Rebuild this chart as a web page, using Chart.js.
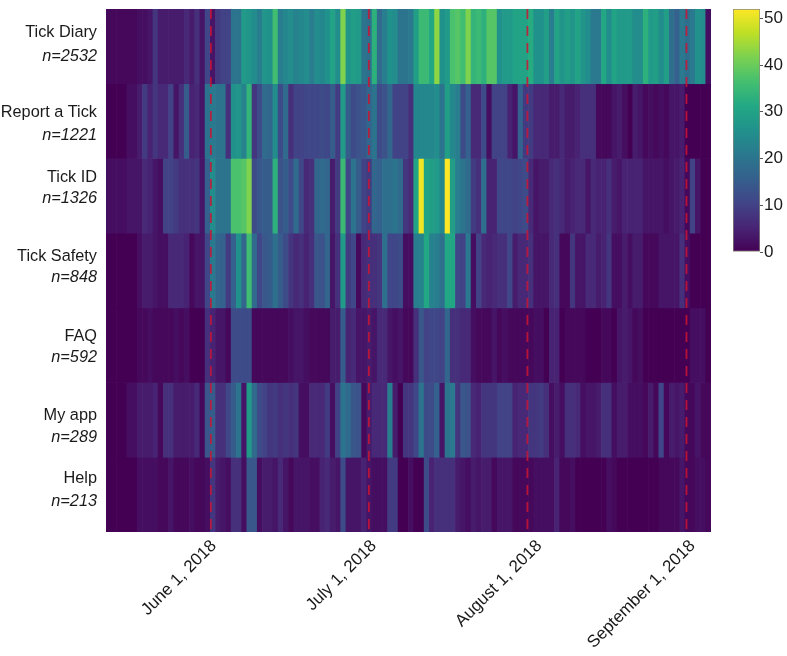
<!DOCTYPE html>
<html><head><meta charset="utf-8">
<style>html,body{margin:0;padding:0;background:#fff;width:787px;height:656px;overflow:hidden}
canvas{position:absolute;display:block}</style>
<script src="https://cdn.jsdelivr.net/npm/chart.js@4"></script>
</head><body>
<canvas id="heat" width="720" height="656" style="left:0;top:0;width:720px;height:656px"></canvas>
<canvas id="bar" width="67" height="260" style="left:720px;top:0;width:67px;height:260px"></canvas>
<script>
const tickDiary=[1,1,1,1,1,1,2,2,3,8,4,4,4,4,4,6,4,7,3,11,3,9,10,10,20,20,28,27,25,22,27,26,36,22,24,25,23,24,25,22,25,24,26,30,25,42,27,29,28,20,19,33,18,22,26,25,20,20,21,29,35,35,31,43,26,28,37,38,36,42,34,35,33,38,38,26,28,28,30,30,30,32,26,26,29,22,30,27,29,27,30,27,25,21,21,31,25,30,28,28,28,25,25,33,28,29,25,29,19,16,21,19,21,26,25,2];
const reportTick=[0,0,0,0,2,2,4,9,5,8,6,6,10,3,7,15,5,6,3,20,21,20,20,7,26,27,23,34,8,12,18,17,25,12,18,7,10,10,11,11,11,12,11,15,9,28,15,12,13,14,17,20,12,13,17,10,10,10,7,24,24,24,24,25,20,29,24,22,12,16,6,6,12,2,10,10,10,5,3,16,9,9,6,6,6,4,4,6,4,4,5,7,7,7,1,1,1,3,4,2,0,4,3,1,2,1,2,1,3,3,4,0,0,0,0,0];
const tickId=[2,2,2,2,3,3,3,6,5,3,2,10,10,9,7,7,7,8,3,16,25,20,20,20,37,37,38,42,12,14,15,15,33,13,15,12,18,11,6,7,17,18,17,4,9,35,11,20,15,10,9,17,16,19,19,20,18,8,6,30,51,30,29,28,24,52,29,22,20,18,9,7,19,5,5,11,11,11,10,11,12,6,3,4,4,6,7,6,4,5,6,6,3,6,5,5,7,4,3,5,5,5,5,3,3,3,3,2,3,4,5,1,10,3,0,0];
const tickSafety=[0,0,0,0,0,0,2,4,4,3,2,2,6,6,6,5,1,3,3,11,21,17,16,9,16,26,17,36,18,11,14,15,19,15,12,8,6,7,5,7,14,13,17,3,7,28,9,11,1,6,7,7,8,19,11,11,12,2,2,22,23,31,23,22,19,31,31,11,10,21,2,10,6,5,6,7,7,11,4,6,6,7,3,3,3,6,7,1,1,8,3,3,6,6,4,5,8,2,2,4,2,4,4,1,1,1,3,3,3,3,7,2,0,0,0,0];
const faq=[0,0,0,0,0,0,1,1,2,1,1,1,1,2,1,2,0,0,0,7,5,3,3,1,12,12,12,12,1,1,1,1,1,1,1,2,3,3,2,1,1,1,1,4,4,15,5,6,3,3,4,3,6,6,3,2,3,1,1,7,14,10,11,11,10,17,7,7,6,6,2,1,1,1,3,1,2,1,1,1,1,1,2,2,0,5,5,0,1,1,1,1,0,0,0,1,1,0,3,4,3,1,2,0,0,0,0,0,0,0,0,0,2,2,2,0];
const myApp=[0,0,0,0,2,2,4,4,4,5,1,7,7,4,4,4,4,6,1,14,15,7,7,11,15,20,3,28,18,12,10,8,9,7,8,7,8,2,2,6,6,6,9,2,10,20,18,14,13,1,4,6,6,6,22,4,0,8,8,11,20,12,12,16,3,20,21,8,14,13,6,5,8,8,8,10,10,10,5,6,6,8,8,9,7,2,4,2,7,7,6,2,3,3,4,7,7,2,4,4,2,2,2,1,4,1,11,1,4,3,4,1,1,3,1,1];
const help=[0,0,0,0,0,0,2,2,2,2,1,1,3,1,1,1,2,1,1,2,8,4,3,2,7,7,2,14,14,2,4,4,3,6,3,1,3,3,3,2,2,5,6,4,3,12,3,3,3,5,3,2,2,2,9,9,0,0,2,0,0,12,5,7,7,7,7,4,3,2,4,3,4,4,1,3,3,3,1,1,1,1,2,2,2,2,5,1,1,2,0,0,0,0,0,0,2,1,0,0,0,0,0,0,0,0,1,1,1,1,3,1,1,2,2,1];
const rows=[tickDiary,reportTick,tickId,tickSafety,faq,myApp,help];
const rowNames=["Tick Diary","Report a Tick","Tick ID","Tick Safety","FAQ","My app","Help"];
const rowCounts=["n=2532","n=1221","n=1326","n=848","n=592","n=289","n=213"];
const nameTickPos=[0.32,1.39,2.25,3.31,4.38,5.44,6.29];
const countTickPos=[0.63,1.69,2.53,3.60,4.67,5.73,6.59];
const xTickPos=[20.1,50.4,80.8,111.3];
const xLabelPos=[20.1,50.8,82.5,111.9];
const xTickLabels=["June 1, 2018","July 1, 2018","August 1, 2018","September 1, 2018"];
const colorTicks=[0,10,20,30,40,50];
const colorMax=52;
const dayCount=116;
const viridis=["#440154","#482475","#414487","#355f8d","#2a788e","#21918c","#22a884","#44bf70","#7ad151","#bddf26","#fde725"];

function hex(c){return [1,3,5].map(i=>parseInt(c.substr(i,2),16));}
function colorOf(v){
  const t=Math.min(1,Math.max(0,v/colorMax))*(viridis.length-1);
  const i=Math.min(viridis.length-2,Math.floor(t)),f=t-i;
  const a=hex(viridis[i]),b=hex(viridis[i+1]);
  return `rgb(${a.map((x,k)=>Math.round(x+(b[k]-x)*f)).join(",")})`;
}
const FONT="'Liberation Sans', Arial, sans-serif";
const ink="#1a1a1a";

const heatSets=rows.map((vals,r)=>({
  type:"bar",
  data:vals.map((v,i)=>({x:i+0.5,y:[r,r+1]})),
  backgroundColor:c=>colorOf(vals[c.dataIndex]),
  borderWidth:0,barPercentage:1,categoryPercentage:1,grouped:false,order:2
}));
const lineSets=xTickPos.map(p=>({
  type:"line",
  data:[{x:p,y:0},{x:p,y:7.04}],
  borderColor:"rgba(205,20,50,0.85)",borderWidth:1.8,borderDash:[10,7],
  pointRadius:0,clip:false,order:1
}));
const yTicks=[];
rows.forEach((_,r)=>{
  yTicks.push({value:nameTickPos[r],label:rowNames[r],it:false});
  yTicks.push({value:countTickPos[r],label:rowCounts[r],it:true});
});

new Chart(document.getElementById("heat"),{
  data:{datasets:[...heatSets,...lineSets]},
  options:{
    responsive:false,animation:false,devicePixelRatio:1,
    layout:{autoPadding:false,padding:{left:0,top:9,right:9,bottom:0}},
    plugins:{legend:{display:false},tooltip:{enabled:false}},
    scales:{
      x:{type:"linear",min:0,max:dayCount,offset:false,
        grid:{display:false,drawTicks:false},border:{display:false},
        afterBuildTicks:s=>{s.ticks=xLabelPos.map(v=>({value:v}));},
        afterFit:s=>{s.height=124;},
        ticks:{autoSkip:false,minRotation:45,maxRotation:45,padding:4,labelOffset:3,color:ink,
          font:{family:FONT,size:17},
          callback:(v,i)=>xTickLabels[i]}
      },
      y:{type:"linear",min:0,max:7,reverse:true,
        grid:{display:false,drawTicks:false},border:{display:false},
        afterBuildTicks:s=>{s.ticks=yTicks.map(t=>({value:t.value}));},
        afterFit:s=>{s.width=106;s.paddingTop=0;s.paddingBottom=0;},
        ticks:{autoSkip:false,padding:9,color:ink,
          font:c=>({family:FONT,size:16.3,style:yTicks[c.index]&&yTicks[c.index].it?"italic":"normal"}),
          callback:(v,i)=>yTicks[i].label}
      }
    }
  }
});

new Chart(document.getElementById("bar"),{
  type:"bar",
  data:{labels:[""],datasets:[{
    data:[[0,colorMax]],
    backgroundColor:c=>{
      const a=c.chart.chartArea; if(!a) return viridis[0];
      const g=c.chart.ctx.createLinearGradient(0,a.bottom,0,a.top);
      viridis.forEach((col,i)=>g.addColorStop(i/(viridis.length-1),col));
      return g;
    },
    borderColor:"#8a8a7a",borderWidth:1,borderSkipped:false,
    barPercentage:1,categoryPercentage:1
  }]},
  options:{
    responsive:false,animation:false,devicePixelRatio:1,
    layout:{autoPadding:false,padding:{left:13,top:9,right:0,bottom:8}},
    plugins:{legend:{display:false},tooltip:{enabled:false}},
    scales:{
      x:{display:false},
      y:{position:"right",min:0,max:colorMax,
        border:{display:false},
        grid:{drawOnChartArea:false,drawTicks:true,tickLength:3,tickColor:"#555"},
        afterBuildTicks:s=>{s.ticks=colorTicks.map(v=>({value:v}));},
        afterFit:s=>{s.width=27;s.paddingTop=0;s.paddingBottom=0;},
        ticks:{padding:1,color:ink,font:{family:FONT,size:17},callback:v=>String(v)}
      }
    }
  }
});
</script>
</body></html>
